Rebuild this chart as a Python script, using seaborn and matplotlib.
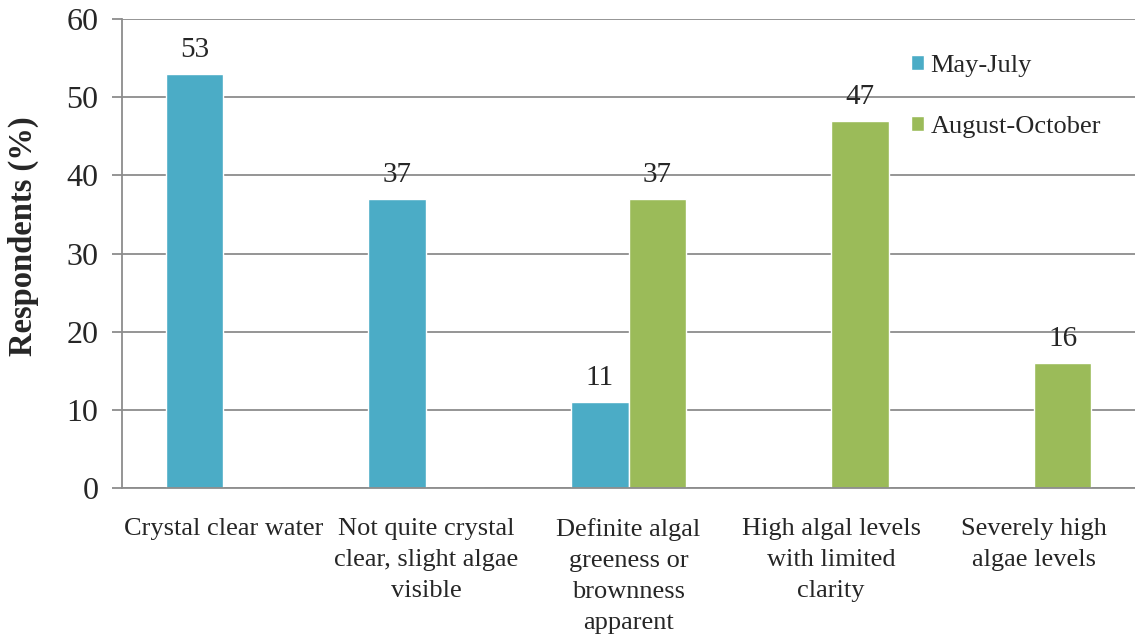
import numpy as np
import pandas as pd
import seaborn as sns
import matplotlib.pyplot as plt
from matplotlib.patches import Patch

# chart values
categories = [
    "Crystal clear water",
    "Not quite crystal\nclear, slight algae\nvisible",
    "Definite algal\ngreeness or\nbrownness\napparent",
    "High algal levels\nwith limited\nclarity",
    "Severely high\nalgae levels",
]
series = ["May-July", "August-October"]
may_july = [53, 37, 11, 0, 0]
aug_oct = [0, 0, 37, 47, 16]
colors = ["#4BACC6", "#9BBB59"]

df = pd.DataFrame({
    "category": categories * 2,
    "period": [series[0]] * 5 + [series[1]] * 5,
    "value": may_july + aug_oct,
})

sns.set_style("white")
plt.rcParams['font.family'] = ['Liberation Serif', 'DejaVu Serif']

fig = plt.figure(figsize=(11.35, 6.37), dpi=100)
ax = fig.add_axes([0.1075, 0.234, 0.8925, 0.736])

sns.barplot(data=df, x="category", y="value", hue="period", palette=colors,
            width=0.57, ax=ax, legend=False, saturation=1)

for cont in ax.containers:
    labels = [f"{int(b.get_height())}" if b.get_height() > 0 else "" for b in cont]
    ax.bar_label(cont, labels=labels, padding=8, fontsize=21)

ax.set_ylim(0, 60)
ax.set_yticks(range(0, 61, 10))
ax.set_xlim(-0.5, 4.475)
ax.yaxis.grid(True, color="#8c8c8c", linewidth=1.3)
ax.set_axisbelow(True)
for side in ["top", "right"]:
    ax.spines[side].set_visible(False)
for side in ["left", "bottom"]:
    ax.spines[side].set_color("#8c8c8c")
    ax.spines[side].set_linewidth(1.3)

ax.set_xticks(np.arange(5))
ax.set_xticklabels(categories, fontsize=19, linespacing=1.52, va="top")
ax.tick_params(axis="x", length=0, pad=22)
ax.set_xticks(np.arange(-0.5, 5, 1), minor=True)
ax.tick_params(axis="x", which="minor", length=7, width=1.3, color="#8c8c8c", direction="out")
ax.tick_params(axis="y", labelsize=23, length=7, width=1.3, color="#8c8c8c", direction="out",
               left=True, pad=10)

ax.set_xlabel("")
ax.set_ylabel("Respondents (%)", fontsize=23.5, fontweight="bold")
ax.yaxis.set_label_coords(-0.082, 0.537)

handles = [Patch(facecolor=c, label=s) for c, s in zip(colors, series)]
ax.legend(handles=handles, loc="upper left", bbox_to_anchor=(0.755, 0.975), frameon=False,
          fontsize=19, handlelength=0.5, handleheight=0.5, handletextpad=0.25,
          labelspacing=1.5)

fig.savefig("out.png", dpi=100)
